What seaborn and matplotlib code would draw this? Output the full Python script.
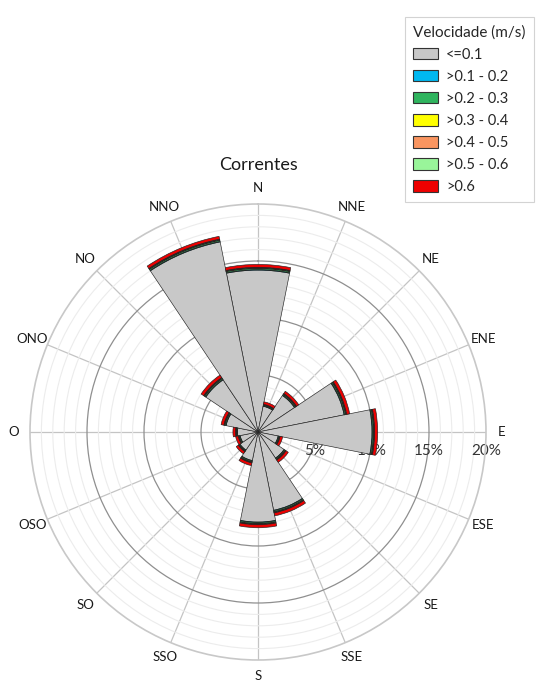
import numpy as np
import pandas as pd
import seaborn as sns
import matplotlib.pyplot as plt
from matplotlib.patches import Patch

# directions (Portuguese compass points, clockwise from N)
directions = ["N", "NNE", "NE", "ENE", "E", "ESE", "SE", "SSE",
              "S", "SSO", "SO", "OSO", "O", "ONO", "NO", "NNO"]
speed_bins = ["<=0.1", ">0.1 - 0.2", ">0.2 - 0.3", ">0.3 - 0.4",
              ">0.4 - 0.5", ">0.5 - 0.6", ">0.6"]
bin_colors = ["#c8c8c8", "#00b8f0", "#2fb45e", "#ffff00",
              "#f99560", "#99f59a", "#ee0000"]

# frequency (%) per speed class and direction
v_01 = [14.2, 2.3, 3.85, 7.7, 10.0, 1.8, 2.75, 7.0, 7.9, 2.55, 1.9, 1.6, 1.8, 2.85, 5.5, 17.0]
v_02 = [0.05, 0.04, 0.04, 0.05, 0.05, 0.04, 0.04, 0.05, 0.05, 0.04, 0.04, 0.04, 0.04, 0.04, 0.05, 0.05]
v_03 = [0.10, 0.07, 0.08, 0.09, 0.09, 0.07, 0.08, 0.09, 0.09, 0.08, 0.07, 0.07, 0.07, 0.08, 0.09, 0.10]
v_04 = [0.03, 0.02, 0.03, 0.03, 0.03, 0.02, 0.03, 0.03, 0.03, 0.03, 0.02, 0.02, 0.02, 0.03, 0.03, 0.03]
v_05 = [0.03, 0.02, 0.03, 0.03, 0.03, 0.02, 0.03, 0.03, 0.03, 0.03, 0.02, 0.02, 0.02, 0.03, 0.03, 0.03]
v_06 = [0.04, 0.03, 0.04, 0.04, 0.04, 0.03, 0.03, 0.04, 0.04, 0.03, 0.03, 0.03, 0.03, 0.03, 0.04, 0.04]
v_07 = [0.25, 0.22, 0.23, 0.26, 0.26, 0.22, 0.24, 0.26, 0.26, 0.24, 0.22, 0.22, 0.22, 0.24, 0.26, 0.25]
layers = [v_01, v_02, v_03, v_04, v_05, v_06, v_07]

r_ticks = [5, 10, 15, 20]

sns.set_style("white")
plt.rcParams["font.family"] = ["Lato", "DejaVu Sans"]

fig = plt.figure(figsize=(5.39, 6.81), dpi=100)
ax = fig.add_axes([30 / 539, 21 / 681, 456 / 539, 456 / 681], projection="polar")
ax.set_theta_zero_location("N")
ax.set_theta_direction(-1)

df = pd.DataFrame({"dir": directions,
                   "theta": np.deg2rad(np.arange(len(directions)) * 22.5)})

bottom = np.zeros(len(directions))
for vals, col in zip(layers, bin_colors):
    sns.barplot(x=df["theta"], y=vals, native_scale=True, width=1,
                bottom=bottom, color=col, saturation=1, edgecolor="#222222",
                linewidth=0.45, errorbar=None, ax=ax, zorder=3)
    bottom = bottom + np.array(vals)

ax.set_ylim(0, 20)
ax.set_xlabel("")
ax.set_ylabel("")
ax.set_xticks(df["theta"])
ax.set_xticklabels([])
ax.set_yticks([5, 10, 15])
ax.set_yticks(np.arange(1, 20), minor=True)
ax.set_yticklabels([])
ax.tick_params(axis="both", length=0)
ax.grid(False)
ax.xaxis.grid(True, color="#c4c4c4", linewidth=0.9)
ax.yaxis.grid(True, which="major", color="#8f8f8f", linewidth=0.9)
ax.yaxis.grid(True, which="minor", color="#ececec", linewidth=0.8)
ax.spines["polar"].set_color("#c8c8c8")
ax.spines["polar"].set_linewidth(1.2)
ax.set_axisbelow(True)

# compass labels
for th, lab in zip(df["theta"], df["dir"]):
    ax.text(th, 21.4, lab, ha="center", va="center", fontsize=9.5,
            color="#1a1a1a", clip_on=False)

# radial labels along the E axis, behind the bars
for r in r_ticks:
    ax.annotate(f"{r}%", xy=(np.pi / 2, r), xytext=(0, -13.5),
                textcoords="offset points", ha="center", va="center",
                fontsize=11, color="#333333", zorder=1)

fig.text(258 / 539, 1 - 165 / 681, "Correntes", ha="center", va="center",
         fontsize=13, color="#1a1a1a")

handles = [Patch(facecolor=c, edgecolor="#333333", linewidth=0.8, label=l)
           for c, l in zip(bin_colors, speed_bins)]
leg = fig.legend(handles=handles, title="Velocidade (m/s)", loc="upper left",
                 bbox_to_anchor=(398 / 539, 1 - 10 / 681), fontsize=10.5,
                 title_fontsize=11, frameon=True, fancybox=False,
                 edgecolor="#c8c8c8", handlelength=1.7, handleheight=0.85,
                 labelspacing=0.55, borderpad=0.55, handletextpad=0.55)
leg._legend_box.align = "left"
leg.get_frame().set_linewidth(0.8)

fig.savefig("out.png", dpi=100, facecolor="white")
